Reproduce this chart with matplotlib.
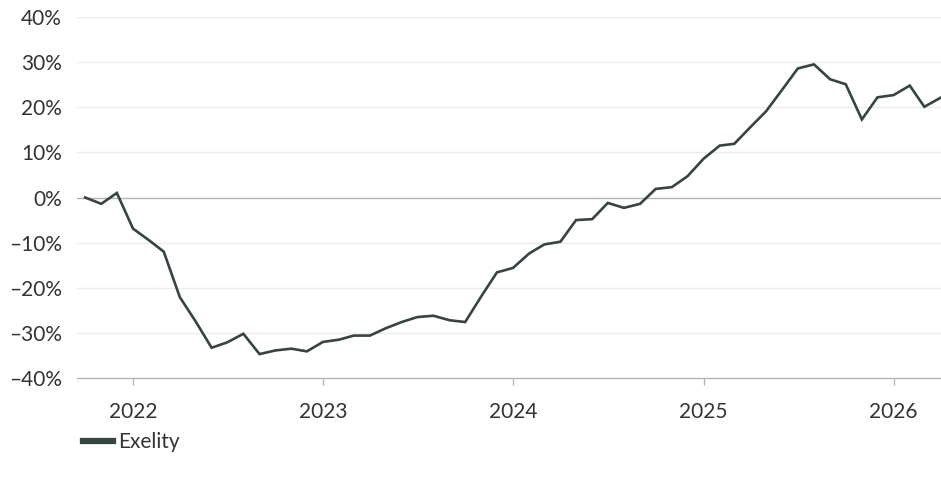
import matplotlib
matplotlib.use("Agg")
import matplotlib.pyplot as plt
import matplotlib.dates as mdates
from matplotlib.lines import Line2D
import pandas as pd

# monthly cumulative return, Oct 2021 .. Apr 2026
months = pd.date_range("2021-10-01", "2026-04-01", freq="MS")
exelity = [
    0.0, -1.4, 1.0,
    -6.9, -9.5, -12.0, -22.1, -27.4, -33.3, -32.1, -30.2, -34.7, -33.9, -33.5, -34.1,
    -32.0, -31.5, -30.6, -30.6, -29.0, -27.6, -26.5, -26.2, -27.2, -27.6, -21.9, -16.6,
    -15.6, -12.4, -10.4, -9.8, -5.0, -4.8, -1.2, -2.3, -1.4, 1.9, 2.3, 4.7,
    8.6, 11.5, 11.9, 15.6, 19.1, 23.9, 28.6, 29.5, 26.2, 25.1, 17.3, 22.2,
    22.7, 24.8, 20.1, 22.1,
]
series_name = "Exelity"
y_ticks = [-40, -30, -20, -10, 0, 10, 20, 30, 40]

LINE = "#364442"
GRID = "#ececec"
AXIS = "#b4b4b4"
TEXT = "#333333"
FS = 15

plt.rcParams["font.family"] = ["Lato", "DejaVu Sans"]

W, H = 941, 484
fig = plt.figure(figsize=(W / 100, H / 100), dpi=100)
left, right, top, bottom = 77.3, 941, 17, 378
ax = fig.add_axes([left / W, 1 - bottom / H, (right - left) / W, (bottom - top) / H])

ax.plot(months, exelity, color=LINE, lw=1.9, solid_joinstyle="miter", zorder=3)

ax.set_ylim(-40, 40)
ax.set_xlim(pd.Timestamp("2021-09-16"), pd.Timestamp("2026-04-02"))
ax.set_yticks(y_ticks)
ax.set_yticklabels([f"{v}%".replace("-", "–") for v in y_ticks])
for v in y_ticks:
    if v == 0:
        ax.axhline(v, color=AXIS, lw=1.0, zorder=2)
    elif v != -40:
        ax.axhline(v, color=GRID, lw=1.0, zorder=1)

ax.xaxis.set_major_locator(mdates.YearLocator())
ax.xaxis.set_major_formatter(mdates.DateFormatter("%Y"))

for s in ("left", "right", "top"):
    ax.spines[s].set_visible(False)
ax.spines["bottom"].set_color(AXIS)
ax.spines["bottom"].set_linewidth(1.0)

ax.tick_params(axis="y", length=0, pad=11, labelsize=FS, labelcolor=TEXT)
ax.tick_params(axis="x", length=5, width=1, color=AXIS, pad=12.5,
               labelsize=FS, labelcolor=TEXT)

handle = Line2D([0], [0], color=LINE, lw=4.5)
fig.legend([handle], [series_name], loc="center left",
           bbox_to_anchor=(64 / W, 1 - 442 / H), frameon=False,
           fontsize=FS, handlelength=1.45, handletextpad=0.25,
           labelcolor=TEXT)

fig.savefig("out.png", dpi=100, facecolor="white")
